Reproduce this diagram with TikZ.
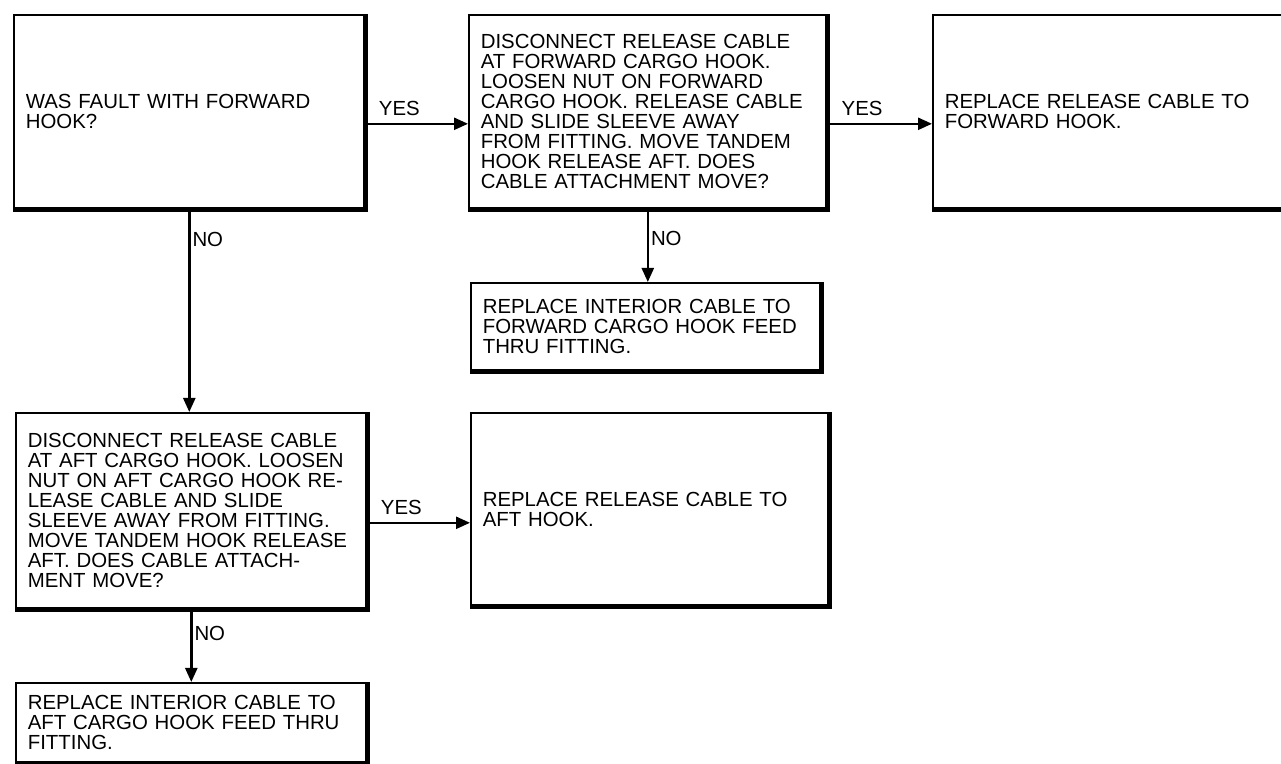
\documentclass[tikz,border=0pt]{standalone}
\usepackage{fontspec}
\setmainfont{Liberation Sans}
\usetikzlibrary{arrows.meta}
\tikzset{
  blk/.style={draw, line width=0.8pt, anchor=north west, align=left,
    inner xsep=6pt, inner ysep=0pt},
  flow/.style={line width=1.2pt, -{Triangle[length=7pt,width=6pt]}},
}
\begin{document}
\begin{tikzpicture}[x=0.5pt, y=-0.5pt, font=\fontsize{10.2}{10}\selectfont]
  \clip (0,0) rectangle (1281,764);
  % forward hook row
  \node[blk, minimum width=175.5pt, minimum height=97pt, text width=163.5pt] (fwdq) at (13,14)
    {WAS FAULT WITH FORWARD\\HOOK?};
  \node[blk, minimum width=179pt, minimum height=97pt, text width=167pt] (fwdchk) at (468,14)
    {DISCONNECT RELEASE CABLE\\AT FORWARD CARGO HOOK.\\LOOSEN NUT ON FORWARD\\CARGO HOOK. RELEASE CABLE\\AND SLIDE SLEEVE AWAY\\FROM FITTING. MOVE TANDEM\\HOOK RELEASE AFT. DOES\\CABLE ATTACHMENT MOVE?};
  \node[blk, minimum width=184pt, minimum height=97pt, text width=172pt] (fwdrep) at (932,14)
    {REPLACE RELEASE CABLE TO\\FORWARD HOOK.};
  \node[blk, minimum width=175pt, minimum height=44pt, text width=163pt] (fwdint) at (470,282)
    {REPLACE INTERIOR CABLE TO\\FORWARD CARGO HOOK FEED\\THRU FITTING.};
  % aft hook row
  \node[blk, minimum width=175.5pt, minimum height=98pt, text width=163.5pt] (aftchk) at (15,412)
    {DISCONNECT RELEASE CABLE\\AT AFT CARGO HOOK. LOOSEN\\NUT ON AFT CARGO HOOK RE-\\LEASE CABLE AND SLIDE\\SLEEVE AWAY FROM FITTING.\\MOVE TANDEM HOOK RELEASE\\AFT. DOES CABLE ATTACH-\\MENT MOVE?};
  \node[blk, minimum width=179pt, minimum height=96.5pt, text width=167pt] (aftrep) at (470,412)
    {REPLACE RELEASE CABLE TO\\AFT HOOK.};
  \node[blk, minimum width=175.5pt, minimum height=40pt, text width=163.5pt] (aftint) at (15,682)
    {REPLACE INTERIOR CABLE TO\\AFT CARGO HOOK FEED THRU\\FITTING.};
  % heavy bottom and right edges
  \foreach \n in {fwdq,fwdchk,fwdrep,fwdint,aftchk,aftrep,aftint}
    \draw[line width=2.5pt] (\n.north east) -- (\n.south east) -- (\n.south west);
  % connectors
  \draw[flow] ([yshift=-6pt]fwdq.east) -- ([yshift=-6pt]fwdchk.west) node[pos=0.33, above] {YES};
  \draw[flow] ([yshift=-6pt]fwdchk.east) -- ([yshift=-6pt]fwdrep.west) node[pos=0.33, above] {YES};
  \draw[flow] (fwdq.south) -- (fwdq.south |- aftchk.north) node[pos=0.15, right, inner xsep=1pt] {NO};
  \draw[flow] (fwdchk.south) -- (fwdchk.south |- fwdint.north) node[pos=0.4, right, inner xsep=1pt] {NO};
  \draw[flow] ([yshift=-6pt]aftchk.east) -- ([yshift=-6pt]aftchk.east -| aftrep.west) node[pos=0.33, above] {YES};
  \draw[flow] (aftchk.south) -- (aftchk.south |- aftint.north) node[pos=0.33, right, inner xsep=1pt] {NO};
\end{tikzpicture}
\end{document}
